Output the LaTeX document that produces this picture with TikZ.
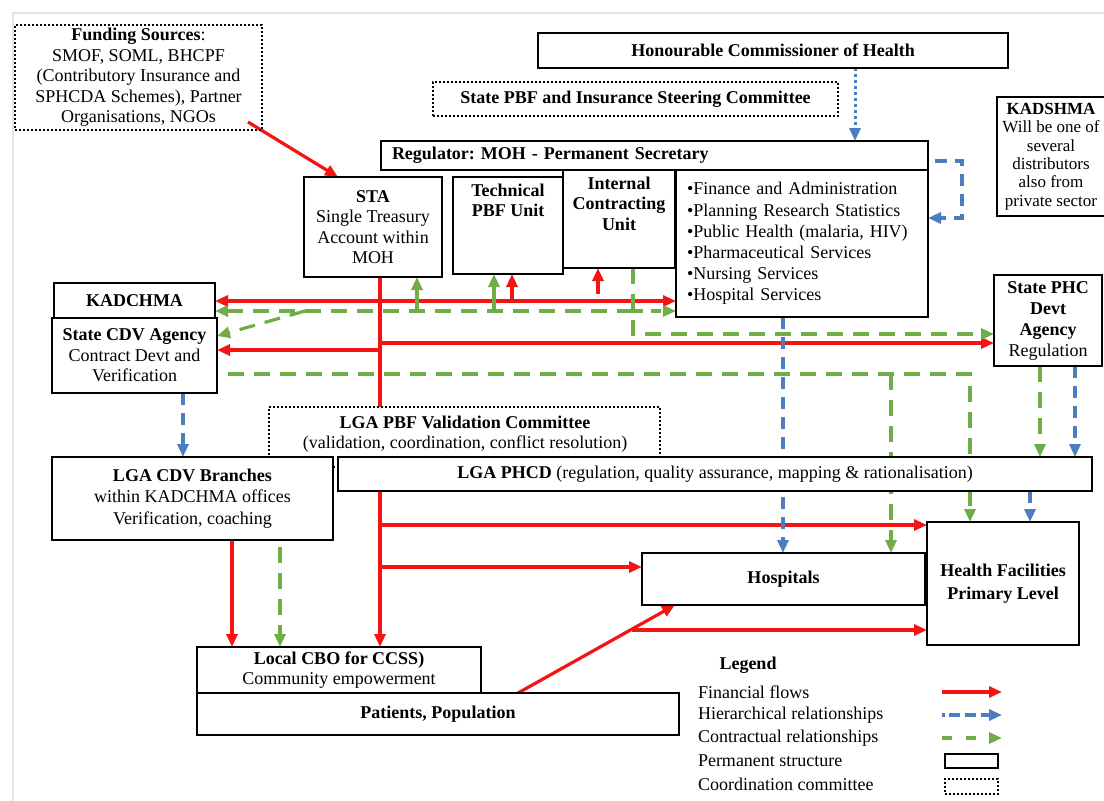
\documentclass[tikz,border=0pt]{standalone}
\usepackage{fontspec}
\setmainfont{Liberation Serif}
\usetikzlibrary{arrows.meta,calc}
\pgfdeclarelayer{bg}
\pgfsetlayers{bg,main}
\definecolor{fred}{RGB}{245,20,20}
\definecolor{hblue}{RGB}{74,126,190}
\definecolor{cgreen}{RGB}{112,173,71}
\frenchspacing
\begin{document}
\begin{tikzpicture}[x=1pt,y=-1pt,
  >={Triangle[length=13pt,width=11pt]},
  every node/.style={font=\fontsize{18}{20.5}\selectfont, inner sep=0pt, outer sep=0pt},
  pbox/.style={draw=black, line width=2.6pt, fill=white, anchor=north west, align=center},
  cbox/.style={draw=black, line width=2pt, dash pattern=on 2pt off 2pt, fill=white, anchor=north west, align=center},
  fin/.style={draw=fred, line width=3.2pt, ->},
  con/.style={draw=cgreen, line width=3.2pt, dash pattern=on 16pt off 10pt, ->},
  hier/.style={draw=hblue, line width=3.2pt, dash pattern=on 12pt off 8pt, ->},
  hdot/.style={draw=hblue, line width=3pt, dash pattern=on 3pt off 3pt, ->},
  ttext/.style={anchor=north, align=center},
  ltext/.style={anchor=west}
]
\useasboundingbox (0,0) rectangle (1104,801);

% ---------- nodes ----------
\node[cbox, fill=none, minimum width=247pt, minimum height=105pt] (fund) at (15,25)
  {\textbf{Funding Sources}:\\SMOF, SOML, BHCPF\\(Contributory Insurance and\\SPHCDA Schemes), Partner\\Organisations, NGOs};
\node[pbox, minimum width=470pt, minimum height=35pt] (hon) at (538,33)
  {\textbf{Honourable Commissioner of Health}};
\node[cbox, minimum width=405pt, minimum height=34pt] (steer) at (433,82)
  {\textbf{State PBF and Insurance Steering Committee}};
\node[pbox, minimum height=29pt, text width=525pt, inner xsep=11pt, align=left] (reg) at (381,141)
  {\textbf{Regulator: MOH - Permanent Secretary}};
\node[pbox, minimum width=138pt, minimum height=100pt] (sta) at (304,177)
  {\textbf{STA}\\Single Treasury\\Account within\\MOH};
\node[pbox, minimum width=110pt, minimum height=97pt] (tpbf) at (453,177) {};
\node[ttext] (tpbft) at (508,184) {\textbf{Technical}\\\textbf{PBF Unit}};
\node[pbox, minimum width=112pt, minimum height=98pt] (icu) at (563,170) {};
\node[ttext] (icut) at (619,177) {\textbf{Internal}\\\textbf{Contracting}\\\textbf{Unit}};
\node[pbox, minimum height=147pt, text width=230pt, inner xsep=11pt, align=left,
  font=\fontsize{18}{21.2}\selectfont] (list) at (676,170)
  {\textbullet Finance and Administration\\\textbullet Planning Research Statistics\\\textbullet Public Health (malaria, HIV)\\\textbullet Pharmaceutical Services\\\textbullet Nursing Services\\\textbullet Hospital Services};
\node[pbox, minimum width=108pt, minimum height=119pt, font=\fontsize{17}{18.4}\selectfont] (kadshma) at (997,97)
  {\textbf{KADSHMA}\\Will be one of\\several\\distributors\\also from\\private sector};
\node[pbox, minimum width=108pt, minimum height=91pt, font=\fontsize{18}{21}\selectfont] (sphc) at (994,275)
  {\textbf{State PHC}\\\textbf{Devt}\\\textbf{Agency}\\Regulation};
\node[pbox, minimum width=161pt, minimum height=35pt] (kadchma) at (54,283) {\textbf{KADCHMA}};
\node[pbox, minimum width=165pt, minimum height=75pt] (scdv) at (52,318)
  {\textbf{State CDV Agency}\\Contract Devt and\\Verification};
\node[cbox, minimum width=391pt, minimum height=60pt] (val) at (269,407) {};
\node[ttext] (valt) at (465,416) {\textbf{LGA PBF Validation Committee}\\(validation, coordination, conflict resolution)};
\node[pbox, minimum width=281pt, minimum height=83pt, font=\fontsize{18}{21.5}\selectfont] (lcdv) at (52,457)
  {\textbf{LGA CDV Branches}\\within KADCHMA offices\\Verification, coaching};
\node[pbox, minimum width=754pt, minimum height=34pt] (phcd) at (338,457)
  {\textbf{LGA PHCD} (regulation, quality assurance, mapping \& rationalisation)};
\node[pbox, minimum width=283pt, minimum height=52pt] (hosp) at (642,553) {\textbf{Hospitals}};
\node[pbox, minimum width=152pt, minimum height=123pt, font=\fontsize{18}{23}\selectfont] (hf) at (927,522)
  {\textbf{Health Facilities}\\\textbf{Primary Level}};
\node[pbox, minimum width=284pt, minimum height=46pt] (cbo) at (197,647)
  {\textbf{Local CBO for CCSS)}\\Community empowerment};
\node[pbox, minimum width=482pt, minimum height=42pt] (pat) at (197,693) {\textbf{Patients, Population}};

% ---------- legend ----------
\node (legt) at (748,665) {\textbf{Legend}};
\node[ltext] (l1) at (698,692) {Financial flows};
\node[ltext] (l2) at (698,715) {Hierarchical relationships};
\node[ltext] (l3) at (698,738) {Contractual relationships};
\node[ltext] (l4) at (698,761) {Permanent structure};
\node[ltext] (l5) at (698,784) {Coordination committee};
\node[pbox, minimum width=53pt, minimum height=14pt] (l4s) at (945,754) {};
\node[cbox, minimum width=53pt, minimum height=15pt] (l5s) at (945,779) {};

% ---------- connectors ----------
\begin{pgfonlayer}{bg}
\fill[white] (0,0) rectangle (1104,801);
\draw[gray!22, line width=1.2pt] (13,801) -- (13,13) -- (1104,13);

% legend arrows
\coordinate (la1) at (942,692); \coordinate (lb1) at (1002,692);
\coordinate (la2) at (942,715); \coordinate (lb2) at (1002,715);
\coordinate (la3) at (942,738); \coordinate (lb3) at (1002,738);
\draw[fin] (la1) -- (lb1);
\draw[hier, dash pattern=on 3pt off 4pt on 11pt off 5pt on 11pt off 5pt on 11pt off 3pt] (la2) -- (lb2);
\draw[con, dash pattern=on 10pt off 14pt] (la3) -- (lb3);

% financial flows (red)
\coordinate (f1) at (248,122);
\draw[fin] (f1) -- ([xshift=-35pt]sta.north);
\coordinate (xr) at (380,0);
\draw[fin] (sta.south -| xr) -- (cbo.north -| xr);
\coordinate (y301) at (0,301);
\draw[fin, <->] (kadchma.east |- y301) -- (list.west |- y301);
\coordinate (a1) at (512,301);
\draw[fin] (a1) -- (tpbf.south -| a1);
\coordinate (a2) at (598,294);
\draw[fin] (a2) -- (icu.south -| a2);
\coordinate (a3) at (380,350);
\draw[fin] (a3) -- (scdv.east |- a3);
\coordinate (a4) at (380,343);
\draw[fin] (a4) -- (sphc.west |- a4);
\coordinate (a5) at (380,525);
\draw[fin] (a5) -- (hf.west |- a5);
\coordinate (a6) at (380,567);
\draw[fin] (a6) -- (hosp.west |- a6);
\coordinate (a7) at (232,0);
\draw[fin] (lcdv.south -| a7) -- (cbo.north -| a7);
\coordinate (a8) at (518,0);
\coordinate (a9) at (675,0);
\draw[fin] (pat.north -| a8) -- (hosp.south -| a9);
\coordinate (a10) at (632,630);
\draw[fin] (a10) -- (hf.west |- a10);

% contractual relationships (green)
\coordinate (g1) at (633,334);
\draw[con] (icu.south -| g1) -- (g1) -- (sphc.west |- g1);
\coordinate (g2) at (633,311);
\draw[con] (g2) -- (kadchma.east |- g2);
\draw[con, dash pattern=on 10pt off 8pt] (g2) -- (list.west |- g2);
\coordinate (g4) at (305,311);
\coordinate (g4b) at (0,336);
\draw[con] (g4) -- (scdv.east |- g4b);
\coordinate (g5) at (417,311);
\draw[con, solid] (g5) -- (sta.south -| g5);
\coordinate (g6) at (494,311);
\draw[con, solid] (g6) -- (tpbf.south -| g6);
\coordinate (g7a) at (228,374);
\coordinate (g7b) at (970,374);
\draw[con] (g7a) -- (g7b) -- (hf.north -| g7b);
\coordinate (g8) at (891,374);
\draw[con] (g8) -- (hosp.north -| g8);
\coordinate (g9) at (1040,0);
\draw[con] (sphc.south -| g9) -- (phcd.north -| g9);
\coordinate (g10) at (280,0);
\draw[con, shorten <=7pt] (lcdv.south -| g10) -- (cbo.north -| g10);

% hierarchical relationships (blue)
\coordinate (b1) at (855,0);
\draw[hdot] (hon.south -| b1) -- (reg.north -| b1);
\coordinate (b2a) at (935,161);
\coordinate (b2b) at (962,218);
\draw[hier] (b2a) -| (b2b) -- (list.east |- b2b);
\coordinate (b3) at (183,0);
\draw[hier] (scdv.south -| b3) -- (lcdv.north -| b3);
\coordinate (b4) at (783,0);
\draw[hier] (list.south -| b4) -- (hosp.north -| b4);
\coordinate (b5) at (1075,0);
\draw[hier] (sphc.south -| b5) -- (phcd.north -| b5);
\coordinate (b6) at (1030,0);
\draw[hier] (phcd.south -| b6) -- (hf.north -| b6);
\end{pgfonlayer}
\end{tikzpicture}
\end{document}
